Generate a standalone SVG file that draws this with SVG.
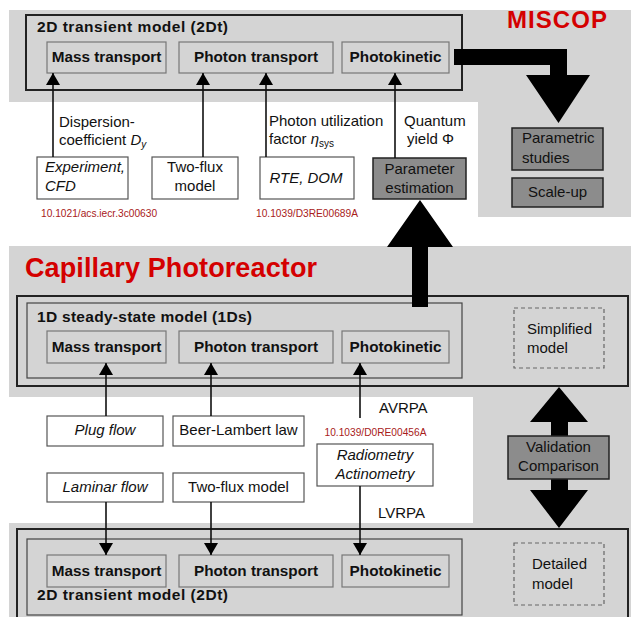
<svg xmlns="http://www.w3.org/2000/svg" width="631" height="617" viewBox="0 0 631 617">
<style>
.panel{fill:#d4d4d4}
.outer{fill:none;stroke:#222;stroke-width:2}
.inner{fill:none;stroke:#444;stroke-width:1.2}
.sub{fill:none;stroke:#777;stroke-width:1.2}
.wbox{fill:#fff;stroke:#555;stroke-width:1.2}
.gbox{fill:#8c8c8c;stroke:#222;stroke-width:1.5}
.dash{fill:none;stroke:#666;stroke-width:1.2;stroke-dasharray:4 3}
text{font-family:"Liberation Sans",Arial,sans-serif;fill:#111}
.b{font-weight:bold;font-size:15.3px}
.t{font-weight:bold;font-size:15.5px}
.r{font-size:15px}
.i{font-size:15px;font-style:italic}
.doi{font-size:10.2px;fill:#a8201a}
.red{font-weight:bold;fill:#d40000}
.conn{stroke:#111;stroke-width:1.6;fill:none;marker-end:url(#ah)}
.block{fill:#000}
.c{text-anchor:middle}
</style>
<defs>
<marker id="ah" viewBox="0 0 12 14" refX="12" refY="7" markerWidth="12" markerHeight="14" markerUnits="userSpaceOnUse" orient="auto">
<path d="M0,0 L12,7 L0,14 Z" fill="#000"/>
</marker>
</defs>

<g id="panels">
<path class="panel" d="M9,10 H631 V217 H478 V102 H9 Z"/>
<path class="panel" d="M9,246 H631 V617 H9 V523 H473 V397 H9 Z"/>
</g>

<g id="miscop">
<text class="red" x="507" y="28" font-size="24" textLength="100">MISCOP</text>
</g>

<g id="top-2dt">
<rect class="outer" x="26" y="15" width="436" height="75"/>
<text class="t" x="37" y="32" textLength="191">2D transient model (2Dt)</text>
<g id="top-mass"><rect class="sub" x="47" y="42" width="119" height="31"/><text class="b c" x="106.5" y="62">Mass transport</text></g>
<g id="top-photon"><rect class="sub" x="179" y="42" width="154" height="31"/><text class="b c" x="256" y="62">Photon transport</text></g>
<g id="top-kinetic"><rect class="sub" x="342" y="42" width="107" height="31"/><text class="b c" x="395.5" y="62">Photokinetic</text></g>
</g>

<g id="experiment"><rect class="wbox" x="37" y="157" width="91" height="42"/>
<text class="i" x="45" y="172">Experiment,</text><text class="i" x="45" y="191">CFD</text></g>
<g id="twoflux-top"><rect class="wbox" x="152" y="157" width="86" height="42"/>
<text class="r c" x="195" y="172">Two-flux</text><text class="r c" x="195" y="191">model</text></g>
<g id="rte"><rect class="wbox" x="260" y="157" width="94" height="42"/>
<text class="i c" x="306" y="183">RTE, DOM</text></g>
<g id="paramest"><rect class="gbox" x="373" y="158" width="93" height="41"/>
<text class="r c" x="419.5" y="174">Parameter</text><text class="r c" x="419.5" y="193">estimation</text></g>

<g id="labels-top">
<text class="r" x="59" y="127">Dispersion-</text>
<text class="r" x="59" y="145">coefficient <tspan font-style="italic">D</tspan><tspan font-style="italic" font-size="10" dy="3">y</tspan></text>
<text class="r" x="269" y="126">Photon utilization</text>
<text class="r" x="269" y="144">factor <tspan font-style="italic">η</tspan><tspan font-size="10" dy="3">sys</tspan></text>
<text class="r" x="404" y="126">Quantum</text>
<text class="r" x="407" y="144">yield Φ</text>
<text class="doi" x="41" y="217">10.1021/acs.iecr.3c00630</text>
<text class="doi c" x="307" y="217">10.1039/D3RE00689A</text>
</g>

<g id="parametric"><rect class="gbox" x="512" y="128" width="91" height="42"/>
<text class="r" x="522" y="143">Parametric</text><text class="r" x="522" y="163">studies</text></g>
<g id="scaleup"><rect class="gbox" x="512" y="178" width="91" height="29"/>
<text class="r c" x="557.5" y="197">Scale-up</text></g>

<g id="capillary">
<text class="red" x="25" y="277" font-size="27" textLength="292">Capillary Photoreactor</text>
</g>

<g id="mid-1ds">
<rect class="outer" x="17" y="296" width="611" height="90"/>
<rect class="inner" x="27" y="303" width="435" height="75"/>
<text class="t" x="37" y="322" textLength="215">1D steady-state model (1Ds)</text>
<g id="mid-mass"><rect class="sub" x="47" y="331" width="119" height="32"/><text class="b c" x="106.5" y="352">Mass transport</text></g>
<g id="mid-photon"><rect class="sub" x="179" y="331" width="154" height="32"/><text class="b c" x="256" y="352">Photon transport</text></g>
<g id="mid-kinetic"><rect class="sub" x="342" y="331" width="107" height="32"/><text class="b c" x="395.5" y="352">Photokinetic</text></g>
<g id="simplified"><rect class="dash" x="514" y="308" width="90" height="60"/>
<text class="r" x="527" y="334">Simplified</text><text class="r" x="527" y="353">model</text></g>
</g>

<g id="plugflow"><rect class="wbox" x="47" y="416" width="116" height="30"/><text class="i c" x="105" y="435">Plug flow</text></g>
<g id="beer"><rect class="wbox" x="173" y="416" width="131" height="30"/><text class="r c" x="238.5" y="435">Beer-Lambert law</text></g>
<g id="laminar"><rect class="wbox" x="47" y="473" width="116" height="29"/><text class="i c" x="105" y="492">Laminar flow</text></g>
<g id="twoflux-mid"><rect class="wbox" x="173" y="473" width="131" height="29"/><text class="r c" x="238.5" y="492">Two-flux model</text></g>
<g id="radiometry"><rect class="wbox" x="317" y="444" width="116" height="42"/>
<text class="i c" x="375" y="460">Radiometry</text><text class="i c" x="375" y="479">Actinometry</text></g>
<g id="labels-mid">
<text class="r" x="379" y="413">AVRPA</text>
<text class="doi c" x="375.5" y="436">10.1039/D0RE00456A</text>
<text class="r" x="378" y="518">LVRPA</text>
</g>

<g id="bot-2dt">
<rect class="outer" x="17" y="529" width="611" height="95"/>
<rect class="inner" x="27" y="539" width="435" height="76"/>
<text class="t" x="37" y="600" textLength="191">2D transient model (2Dt)</text>
<g id="bot-mass"><rect class="sub" x="47" y="555" width="119" height="32"/><text class="b c" x="106.5" y="576">Mass transport</text></g>
<g id="bot-photon"><rect class="sub" x="179" y="555" width="154" height="32"/><text class="b c" x="256" y="576">Photon transport</text></g>
<g id="bot-kinetic"><rect class="sub" x="342" y="555" width="107" height="32"/><text class="b c" x="395.5" y="576">Photokinetic</text></g>
<g id="detailed"><rect class="dash" x="514" y="543" width="90" height="62"/>
<text class="r" x="532" y="569">Detailed</text><text class="r" x="532" y="589">model</text></g>
</g>

<g id="connectors">
<line class="conn" x1="53" y1="157" x2="53" y2="73"/>
<line class="conn" x1="203" y1="157" x2="203" y2="73"/>
<line class="conn" x1="266" y1="157" x2="266" y2="73"/>
<line class="conn" x1="395" y1="158" x2="395" y2="73"/>
<line class="conn" x1="106" y1="416" x2="106" y2="363"/>
<line class="conn" x1="211" y1="416" x2="211" y2="363"/>
<line class="conn" x1="360" y1="418" x2="360" y2="363"/>
<line class="conn" x1="106" y1="502" x2="106" y2="555"/>
<line class="conn" x1="211" y1="502" x2="211" y2="555"/>
<line class="conn" x1="360" y1="486" x2="360" y2="555"/>
<path class="block" d="M454,49 H567 V75 H590 L558.5,123 L526,75 H550 V65 H454 Z"/>
<path class="block" d="M412,307 V247 H387 L420,200 L453,247 H428 V307 Z"/>
<path class="block" d="M551,422 H530 L559,387 L588,422 H568 V490 H588 L559,528 L530,490 H551 Z"/>
</g>

<g id="validation"><rect class="gbox" x="508" y="436" width="101" height="43"/>
<text class="r c" x="558.5" y="452">Validation</text><text class="r c" x="558.5" y="471">Comparison</text></g>
</svg>
